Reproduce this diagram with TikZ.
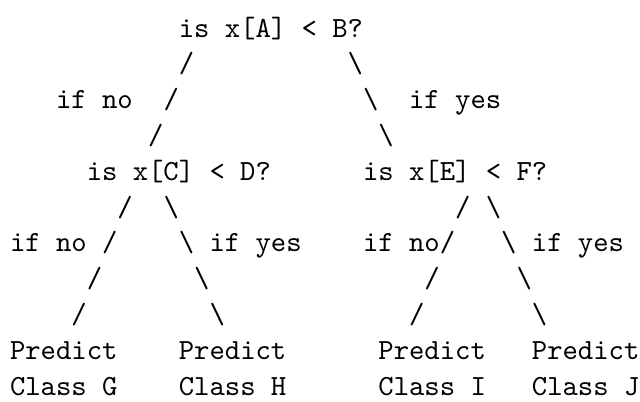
\documentclass[tikz,border=0pt]{standalone}
\tikzset{cell/.style={anchor=base west, inner sep=0pt, outer sep=0pt, font=\ttfamily}}
\newcommand{\bsl}{\textbackslash}
\begin{document}
\begin{tikzpicture}[x=5.25pt, y=-12.244pt]
\useasboundingbox (-0.6515,-0.0335) rectangle (41.04,11.168);
% line 1: root test
\node[cell] (rootq) at (11,1) {is x[A] < B?};
% line 2
\node[cell] (ra2) at (11,2) {/};
\node[cell] (rb2) at (22,2) {\bsl};
% line 3
\node[cell] (rno) at (3,3) {if no};
\node[cell] (ra3) at (10,3) {/};
\node[cell] (rb3) at (23,3) {\bsl};
\node[cell] (ryes) at (26,3) {if yes};
% line 4
\node[cell] (ra4) at (9,4) {/};
\node[cell] (rb4) at (24,4) {\bsl};
% line 5: second-level tests
\node[cell] (cq) at (5,5) {is x[C] < D?};
\node[cell] (eq) at (23,5) {is x[E] < F?};
% line 6
\node[cell] (ca6) at (7,6) {/};
\node[cell] (cb6) at (10,6) {\bsl};
\node[cell] (ea6) at (29,6) {/};
\node[cell] (eb6) at (31,6) {\bsl};
% line 7
\node[cell] (cno) at (0,7) {if no};
\node[cell] (ca7) at (6,7) {/};
\node[cell] (cb7) at (11,7) {\bsl};
\node[cell] (cyes) at (13,7) {if yes};
\node[cell] (eno) at (23,7) {if no};
\node[cell] (ea7) at (28,7) {/};
\node[cell] (eb7) at (32,7) {\bsl};
\node[cell] (eyes) at (34,7) {if yes};
% line 8
\node[cell] (ca8) at (5,8) {/};
\node[cell] (cb8) at (12,8) {\bsl};
\node[cell] (ea8) at (27,8) {/};
\node[cell] (eb8) at (33,8) {\bsl};
% line 9
\node[cell] (ca9) at (4,9) {/};
\node[cell] (cb9) at (13,9) {\bsl};
\node[cell] (ea9) at (26,9) {/};
\node[cell] (eb9) at (34,9) {\bsl};
% lines 10-11: leaves
\node[cell] (pg) at (0,10) {Predict};
\node[cell] (ph) at (11,10) {Predict};
\node[cell] (pi) at (24,10) {Predict};
\node[cell] (pj) at (34,10) {Predict};
\node[cell] (lg) at (0,11) {Class G};
\node[cell] (lh) at (11,11) {Class H};
\node[cell] (li) at (24,11) {Class I};
\node[cell] (lj) at (34,11) {Class J};
\end{tikzpicture}
\end{document}
